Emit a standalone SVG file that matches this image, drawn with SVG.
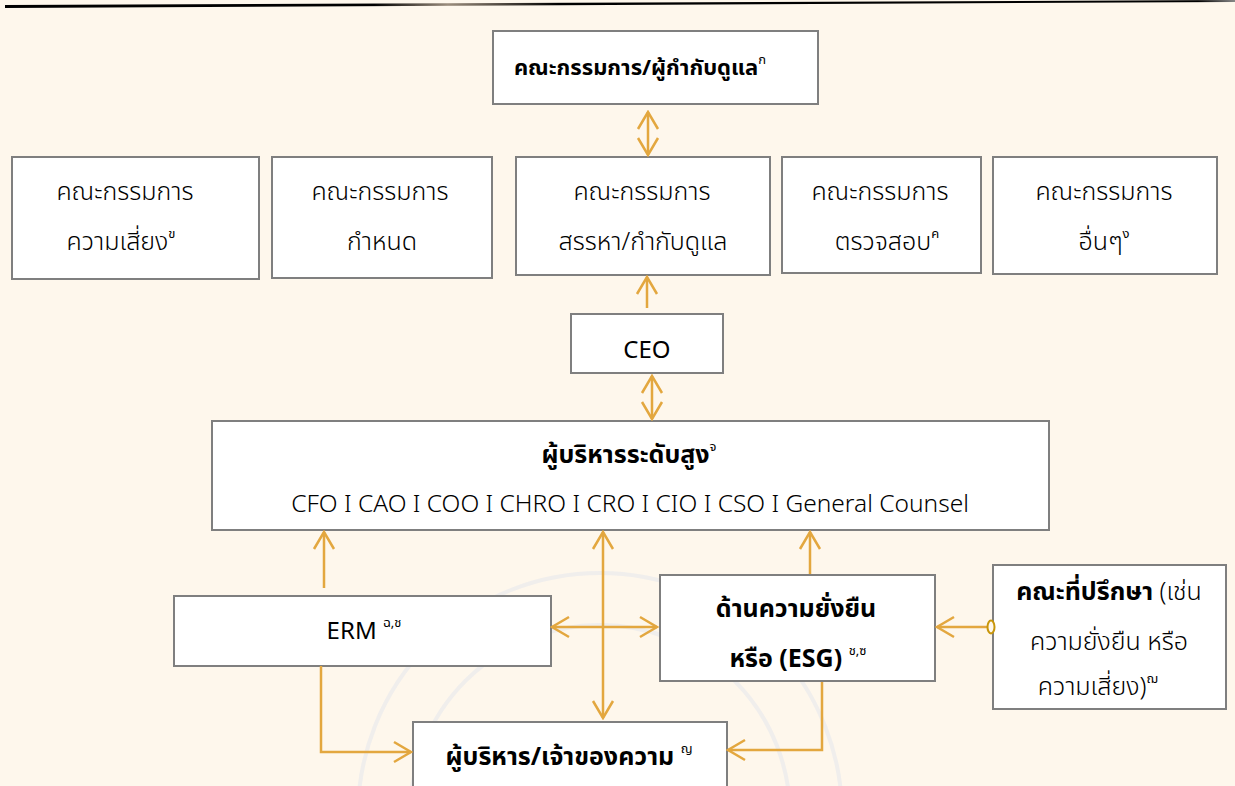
<svg xmlns="http://www.w3.org/2000/svg" width="1235" height="786" viewBox="0 0 1235 786">
<defs>
<style>
.bg{fill:#FEF7EC}
.box{fill:#FFFFFF;stroke:#7F7F7F;stroke-width:2}
.t{font-family:"Noto Sans Thai","Leelawadee UI","Noto Sans","DejaVu Sans",sans-serif;fill:#000;text-anchor:middle}
.r{font-size:25px;font-weight:300}
.b{font-size:25px;font-weight:700}
.sup{font-size:13px;font-weight:400}
.c{fill:none;stroke:#E3A73F;stroke-width:2.5}
.wm{fill:none;stroke:#E6E8EC;opacity:0.6}
</style>
<marker id="ah" viewBox="-18 -12 20 24" refX="0" refY="0" markerWidth="20" markerHeight="24" markerUnits="userSpaceOnUse" orient="auto-start-reverse">
<path d="M-17,-10 L0,0 L-17,10" fill="none" stroke="#E3A73F" stroke-width="2.5"/>
</marker>
<linearGradient id="lg" x1="0" y1="0" x2="1" y2="0">
<stop offset="0" stop-color="#000"/>
<stop offset="0.3" stop-color="#000"/>
<stop offset="0.36" stop-color="#9a8c7c"/>
<stop offset="0.45" stop-color="#000"/>
<stop offset="0.97" stop-color="#000"/>
<stop offset="1" stop-color="#888"/>
</linearGradient>
</defs>
<rect class="bg" x="0" y="0" width="1235" height="786"/>
<polygon points="5,5 1235,0 1235,2 5,8" fill="url(#lg)"/>
<g id="watermark">
<circle class="wm" cx="600" cy="815" r="242" stroke-width="4"/>
<circle class="wm" cx="600" cy="815" r="190" stroke-width="4"/>
</g>

<g id="board">
<rect class="box" x="493" y="31" width="325" height="73"/>
<text class="t b" x="640" y="75" style="font-size:22px">คณะกรรมการ/ผู้กำกับดูแล<tspan class="sup" dy="-11">ก</tspan></text>
</g>

<g id="risk-committee">
<rect class="box" x="12" y="157" width="247" height="122"/>
<text class="t r" x="125" y="200">คณะกรรมการ</text>
<text class="t r" x="121" y="250">ความเสี่ยง<tspan class="sup" dy="-12">ข</tspan></text>
</g>

<g id="nomination-committee">
<rect class="box" x="272" y="157" width="220" height="121"/>
<text class="t r" x="380" y="200">คณะกรรมการ</text>
<text class="t r" x="382" y="250">กำหนด</text>
</g>

<g id="selection-committee">
<rect class="box" x="516" y="157" width="254" height="118"/>
<text class="t r" x="642" y="200">คณะกรรมการ</text>
<text class="t r" x="643" y="250">สรรหา/กำกับดูแล</text>
</g>

<g id="audit-committee">
<rect class="box" x="782" y="157" width="199" height="116"/>
<text class="t r" x="880" y="200">คณะกรรมการ</text>
<text class="t r" x="887" y="250">ตรวจสอบ<tspan class="sup" dy="-12">ค</tspan></text>
</g>

<g id="other-committee">
<rect class="box" x="993" y="157" width="224" height="117"/>
<text class="t r" x="1104" y="200">คณะกรรมการ</text>
<text class="t r" x="1104" y="250">อื่นๆ<tspan class="sup" dy="-12">ง</tspan></text>
</g>

<g id="ceo">
<rect class="box" x="571" y="314" width="152" height="59"/>
<text class="t" x="647" y="358" style="font-size:24px;font-weight:400">CEO</text>
</g>

<g id="senior-mgmt">
<rect class="box" x="212" y="421" width="837" height="109"/>
<text class="t b" x="629" y="463">ผู้บริหารระดับสูง<tspan class="sup" dy="-12">จ</tspan></text>
<text class="t r" x="630" y="512" style="font-size:24.5px">CFO I CAO I COO I CHRO I CRO I CIO I CSO I General Counsel</text>
</g>

<g id="erm">
<rect class="box" x="174" y="596" width="377" height="70"/>
<text class="t" x="364" y="639" style="font-size:24px;font-weight:400">ERM <tspan class="sup" dy="-12">ฉ,ช</tspan></text>
</g>

<g id="esg">
<rect class="box" x="660" y="575" width="275" height="106"/>
<text class="t b" x="796" y="617">ด้านความยั่งยืน</text>
<text class="t b" x="798" y="667">หรือ (ESG) <tspan class="sup" dy="-12" font-weight="700">ช,ซ</tspan></text>
</g>

<g id="advisory">
<rect class="box" x="993" y="565" width="233" height="144"/>
<text class="t" x="1109" y="600" style="font-size:25px"><tspan font-weight="700">คณะที่ปรึกษา</tspan><tspan font-weight="300"> (เช่น</tspan></text>
<text class="t r" x="1109" y="650">ความยั่งยืน หรือ</text>
<text class="t r" x="1098" y="695">ความเสี่ยง)<tspan class="sup" dy="-12">ฌ</tspan></text>
</g>

<g id="risk-owner">
<rect class="box" x="413" y="722" width="314" height="70"/>
<text class="t b" x="569" y="765">ผู้บริหาร/เจ้าของความ <tspan class="sup" dy="-12">ญ</tspan></text>
</g>

<g id="connectors">
<line class="c" x1="648" y1="112" x2="648" y2="155" marker-start="url(#ah)" marker-end="url(#ah)"/>
<line class="c" x1="647" y1="308" x2="647" y2="277" marker-end="url(#ah)"/>
<line class="c" x1="652" y1="376" x2="652" y2="419" marker-start="url(#ah)" marker-end="url(#ah)"/>
<line class="c" x1="324" y1="588" x2="324" y2="532" marker-end="url(#ah)"/>
<line class="c" x1="603" y1="532" x2="603" y2="718" marker-start="url(#ah)" marker-end="url(#ah)"/>
<line class="c" x1="552" y1="627" x2="657" y2="627" marker-start="url(#ah)" marker-end="url(#ah)"/>
<line class="c" x1="810" y1="574" x2="810" y2="532" marker-end="url(#ah)"/>
<path class="c" d="M321,666 V752 H411" marker-end="url(#ah)"/>
<path class="c" d="M822,682 V750 H728" marker-end="url(#ah)"/>
<line class="c" x1="987" y1="627" x2="937" y2="627" marker-end="url(#ah)"/>
<ellipse cx="991" cy="627" rx="3.5" ry="6.5" fill="#FEF7EC" stroke="#C8960A" stroke-width="2"/>
</g>
</svg>
